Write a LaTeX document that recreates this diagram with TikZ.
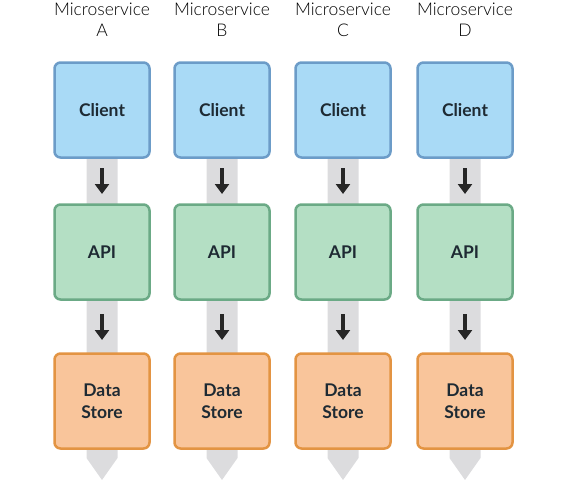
\documentclass[tikz,border=0pt]{standalone}
\usepackage{fontspec}
\setmainfont{Lato}
\newfontfamily\lightfont{Lato Light}
\usetikzlibrary{arrows.meta}
\definecolor{clientfill}{HTML}{A9DAF6}
\definecolor{clientdraw}{HTML}{6C9CC8}
\definecolor{apifill}{HTML}{B4DFC4}
\definecolor{apidraw}{HTML}{6BAA86}
\definecolor{storefill}{HTML}{F9C59B}
\definecolor{storedraw}{HTML}{E39443}
\definecolor{barfill}{HTML}{DCDCDE}
\definecolor{textdark}{HTML}{1E2A33}
\tikzset{
  x=1pt, y=-1pt,
  box/.style={rounded corners=6pt, line width=2.5pt, minimum width=95pt, minimum height=95pt,
    font=\fontsize{17.5}{22}\selectfont\bfseries, text=textdark, align=center, inner sep=0pt},
  clientbox/.style={box, fill=clientfill, draw=clientdraw},
  apibox/.style={box, fill=apifill, draw=apidraw},
  storebox/.style={box, fill=storefill, draw=storedraw},
  title/.style={font=\lightfont\fontsize{17.5}{21}\selectfont, align=center, text=black},
  bar/.style={fill=barfill, draw=none},
  flow/.style={line width=3.2pt, -{Triangle[width=14pt,length=10pt]}, color=black!85}
}
\begin{document}
\begin{tikzpicture}
\useasboundingbox (0,0) rectangle (566,480);
\foreach \cx/\L in {102/A, 222/B, 343/C, 465/D}{
  \fill[bar] (\cx-15.5,150) -- (\cx+15.5,150) -- (\cx+15.5,458) -- (\cx,480) -- (\cx-15.5,458) -- cycle;
  \node[title] (t\L) at (\cx,20) {Microservice\\\L};
  \node[clientbox] (c\L) at (\cx,110) {Client};
  \node[apibox] (a\L) at (\cx,252) {API};
  \node[storebox] (s\L) at (\cx,401) {Data\\Store};
  \coordinate (ca1\L) at (\cx,168);
  \coordinate (ca2\L) at (\cx,194);
  \coordinate (as1\L) at (\cx,314);
  \coordinate (as2\L) at (\cx,340);
  \draw[flow] (ca1\L) -- (ca2\L);
  \draw[flow] (as1\L) -- (as2\L);
}
\end{tikzpicture}
\end{document}
